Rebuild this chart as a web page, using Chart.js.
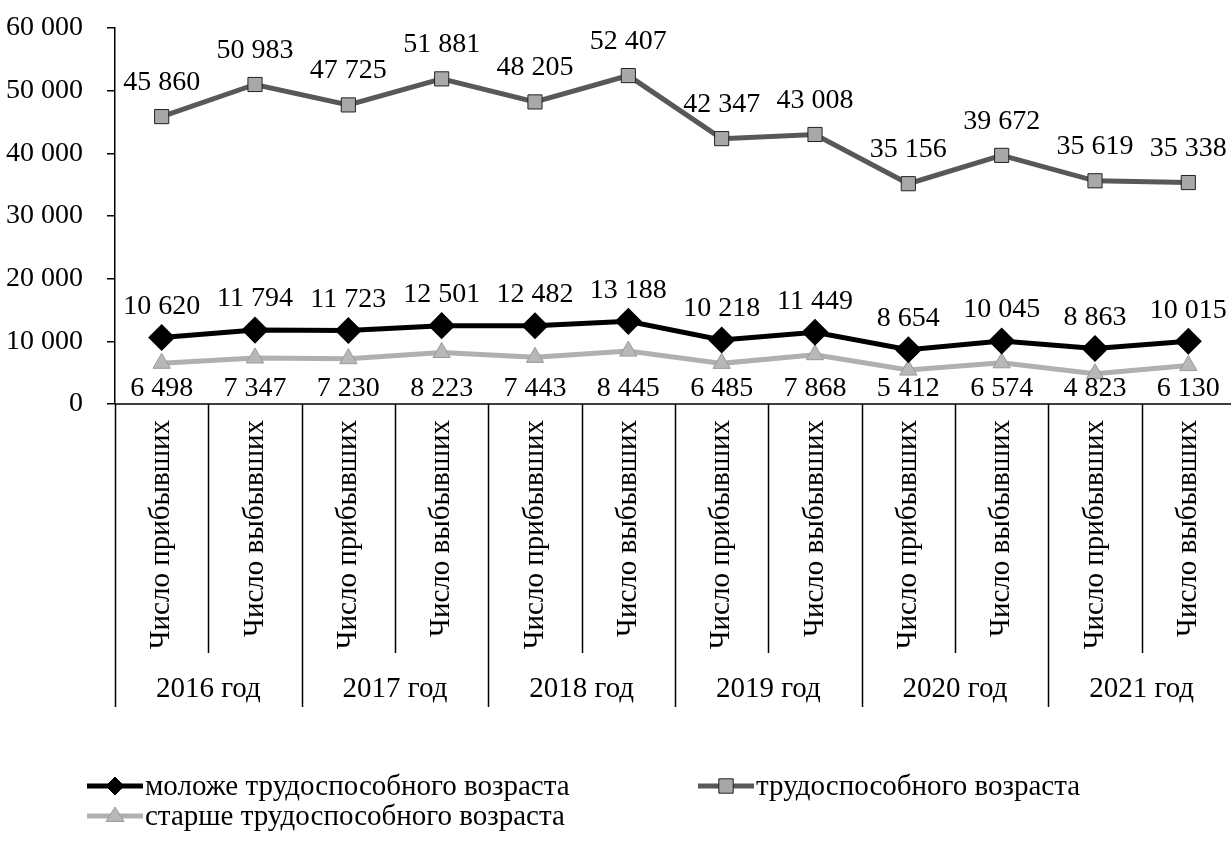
<!DOCTYPE html>
<html lang="ru">
<head>
<meta charset="utf-8">
<title>Миграция по возрастным группам</title>
<script src="https://cdn.jsdelivr.net/npm/chart.js@4/dist/chart.umd.min.js"></script>
<style>
  html, body { margin: 0; padding: 0; background: #fff; overflow: hidden; }
  #wrap { position: relative; width: 1236px; height: 843px; }
</style>
</head>
<body>
<div id="wrap"><canvas id="myChart"></canvas></div>
<script>
// данные
const years = ['2016 год', '2017 год', '2018 год', '2019 год', '2020 год', '2021 год'];
const flows = ['Число прибывших', 'Число выбывших'];
const younger = [10620, 11794, 11723, 12501, 12482, 13188, 10218, 11449, 8654, 10045, 8863, 10015];
const working = [45860, 50983, 47725, 51881, 48205, 52407, 42347, 43008, 35156, 39672, 35619, 35338];
const older = [6498, 7347, 7230, 8223, 7443, 8445, 6485, 7868, 5412, 6574, 4823, 6130];
const seriesNames = ['моложе трудоспособного возраста', 'трудоспособного возраста', 'старше трудоспособного возраста'];
const yTicks = [0, 10000, 20000, 30000, 40000, 50000, 60000];

const labels = [];
years.forEach(y => flows.forEach(f => labels.push(f)));

const FONT = '"Liberation Serif", "Times New Roman", serif';
Chart.defaults.font.family = FONT;
Chart.defaults.color = '#000';

function fmt(v) {
    return String(v).replace(/\B(?=(\d{3})+(?!\d))/g, ' ');
}

function marker(ctx, style, x, y, r, fill, stroke) {
    ctx.save();
    ctx.beginPath();
    if (style === 'rectRot') {
        ctx.moveTo(x, y - r); ctx.lineTo(x + r, y); ctx.lineTo(x, y + r); ctx.lineTo(x - r, y);
    } else if (style === 'rect') {
        ctx.rect(x - r * 0.8, y - r * 0.8, r * 1.6, r * 1.6);
    } else {
        ctx.moveTo(x, y - r); ctx.lineTo(x + r, y + r * 0.6); ctx.lineTo(x - r, y + r * 0.6);
    }
    ctx.closePath();
    ctx.fillStyle = fill; ctx.fill();
    ctx.lineWidth = 1; ctx.strokeStyle = stroke; ctx.stroke();
    ctx.restore();
}

// подписи, ось категорий и легенда
const extras = {
    id: 'extras',
    afterDraw(chart) {
        const ctx = chart.ctx;
        const area = chart.chartArea;
        const n = labels.length;
        const w = (area.right - area.left) / n;
        ctx.save();

        // ось X и разделители
        ctx.strokeStyle = '#000';
        ctx.lineWidth = 1.5;
        ctx.beginPath();
        ctx.moveTo(area.left, area.bottom); ctx.lineTo(chart.width, area.bottom);
        for (let i = 0; i <= n; i++) {
            const x = Math.round(area.left + i * w) + 0.5;
            ctx.moveTo(x, area.bottom);
            ctx.lineTo(x, i % 2 === 0 ? 707 : 653);
        }
        ctx.stroke();

        ctx.fillStyle = '#000';
        ctx.font = '29px ' + FONT;
        ctx.textBaseline = 'middle';
        labels.forEach((l, i) => {
            const x = chart.scales.x.getPixelForValue(i);
            ctx.save();
            ctx.translate(x, area.bottom + 16);
            ctx.rotate(-Math.PI / 2);
            ctx.textAlign = 'right';
            ctx.fillText(l, 0, 0);
            ctx.restore();
        });
        ctx.textAlign = 'center';
        years.forEach((y, i) => {
            ctx.fillText(y, area.left + (i * 2 + 1) * w, 689);
        });

        // подписи значений
        ctx.font = '28px ' + FONT;
        chart.data.datasets.forEach((ds, di) => {
            const meta = chart.getDatasetMeta(di);
            meta.data.forEach((pt, j) => {
                let y;
                if (di === 0) y = pt.y - 31;
                else if (di === 1) y = pt.y - 34;
                else y = area.bottom - 15;
                ctx.fillText(fmt(ds.data[j]), pt.x, y);
            });
        });

        // легенда
        const items = [
            { x: 87, y: 786 },
            { x: 698, y: 786 },
            { x: 87, y: 816 }
        ];
        ctx.font = '29px ' + FONT;
        ctx.textAlign = 'left';
        chart.data.datasets.forEach((ds, di) => {
            const it = items[di];
            ctx.strokeStyle = ds.borderColor;
            ctx.lineWidth = ds.borderWidth;
            ctx.beginPath();
            ctx.moveTo(it.x, it.y); ctx.lineTo(it.x + 56, it.y);
            ctx.stroke();
            marker(ctx, ds.pointStyle, it.x + 28, it.y, 9, ds.pointBackgroundColor, ds.pointBorderColor);
            ctx.fillStyle = '#000';
            ctx.fillText(ds.label, it.x + 58, it.y + 1);
        });
        ctx.restore();
    }
};

const canvas = document.getElementById('myChart');
const myChart = new Chart(canvas, {
    type: 'line',
    data: {
        labels: labels,
        datasets: [{
            label: seriesNames[0],
            data: younger,
            borderColor: '#000',
            borderWidth: 5,
            pointStyle: 'rectRot',
            pointRadius: 10,
            pointBackgroundColor: '#000',
            pointBorderColor: '#000',
            tension: 0
        }, {
            label: seriesNames[1],
            data: working,
            borderColor: '#585858',
            borderWidth: 5,
            pointStyle: 'rect',
            pointRadius: 10,
            pointBackgroundColor: '#a8a8a8',
            pointBorderColor: '#222',
            pointBorderWidth: 1,
            tension: 0
        }, {
            label: seriesNames[2],
            data: older,
            borderColor: '#b0b0b0',
            borderWidth: 5,
            pointStyle: 'triangle',
            pointRadius: 10,
            pointBackgroundColor: '#b8b8b8',
            pointBorderColor: '#999',
            pointBorderWidth: 1,
            tension: 0
        }]
    },
    options: {
        responsive: true,
        maintainAspectRatio: false,
        animation: false,
        layout: { autoPadding: false, padding: { top: 28, right: 1, bottom: 439, left: 0 } },
        plugins: {
            legend: { display: false },
            tooltip: { enabled: false }
        },
        scales: {
            x: {
                display: false,
                offset: true
            },
            y: {
                min: 0,
                max: 60000,
                afterFit: s => { s.width = 115; s.paddingTop = 0; s.paddingBottom = 0; },
                afterBuildTicks: s => { s.ticks = yTicks.map(v => ({ value: v })); },
                ticks: {
                    padding: 24,
                    font: { size: 28 },
                    callback: v => fmt(v)
                },
                grid: {
                    drawOnChartArea: false,
                    drawTicks: true,
                    tickLength: 8,
                    color: '#000',
                    lineWidth: 1.5
                },
                border: { color: '#000', width: 1.5 }
            }
        }
    },
    plugins: [extras]
});
</script>
</body>
</html>
